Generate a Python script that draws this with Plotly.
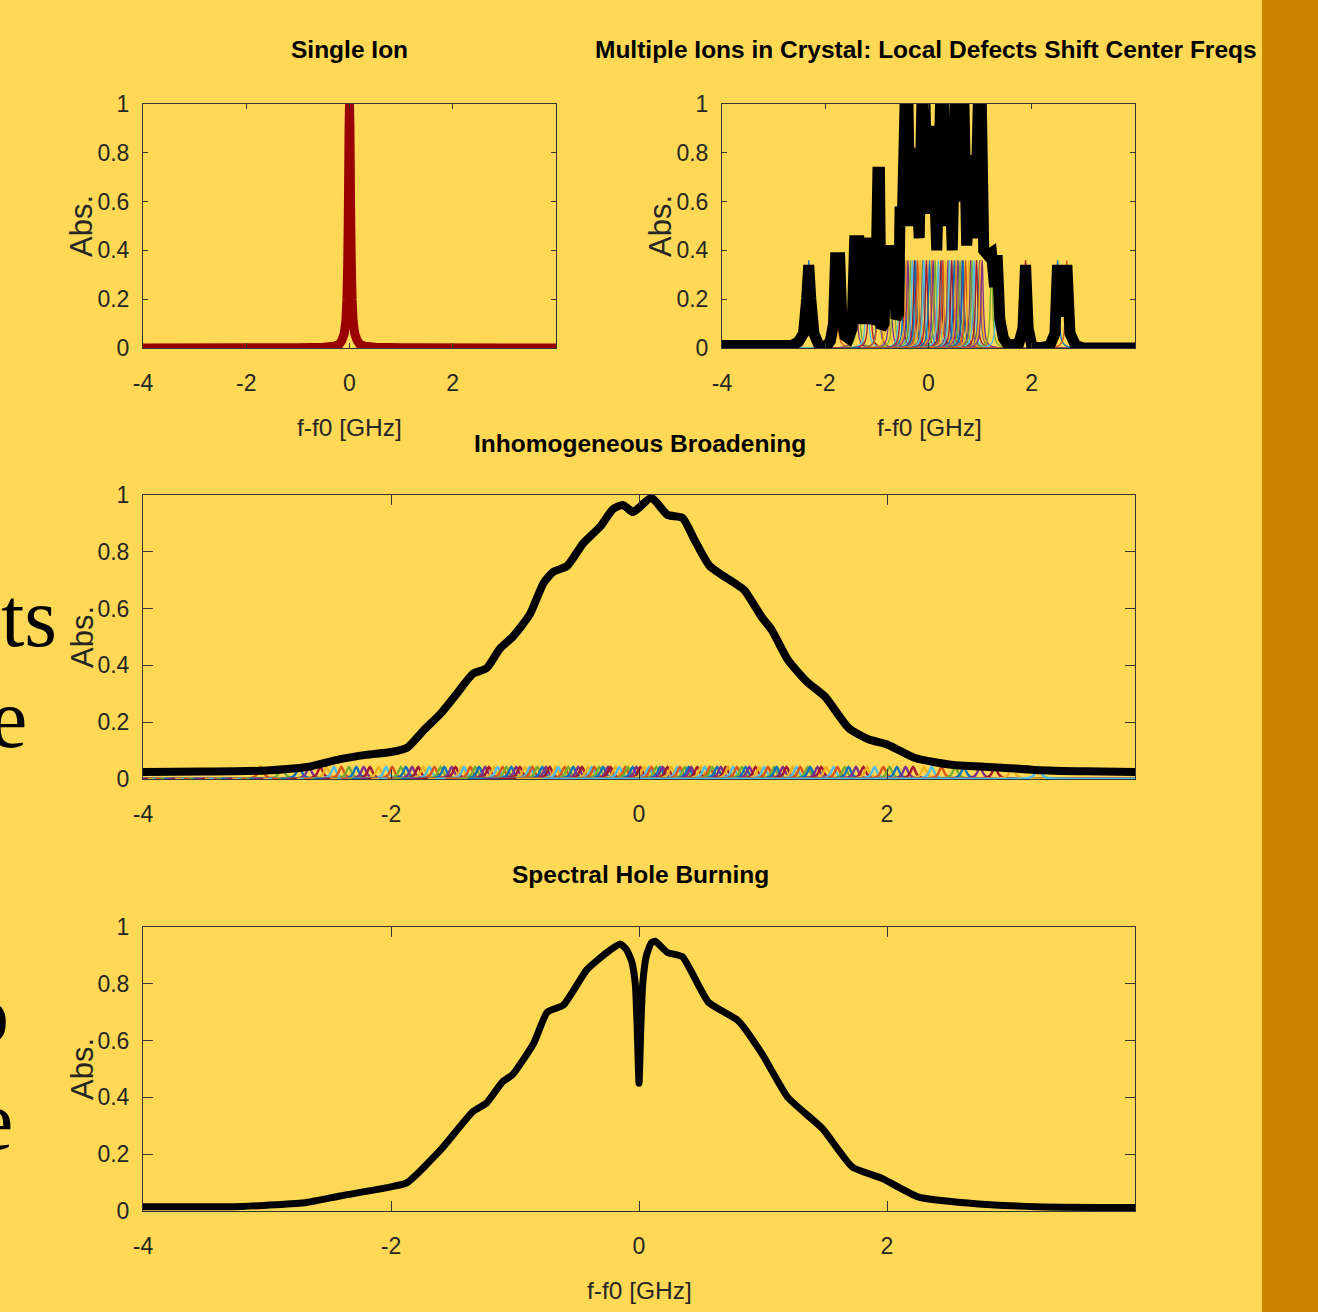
import plotly.graph_objects as go

W, H = 1318, 1312
BG = "#FFD955"
STRIPE = "#CC8400"
AXC = "#333333"
TXT = "#262626"
SANS = "Liberation Sans, Arial, sans-serif"
SERIF = "Liberation Serif, Times New Roman, serif"

MATLAB = ["#0072BD", "#D95319", "#EDB120", "#7E2F8E", "#77AC30", "#4DBEEE", "#A2142F"]

# ---------- data ----------
x_ticks = [-4, -2, 0, 2]
x_tick_text = ["-4", "-2", "0", "2"]
y_ticks = [0, 0.2, 0.4, 0.6, 0.8, 1.0]
y_tick_text = ["0", "0.2", "0.4", "0.6", "0.8", "1"]

# homogeneous line shape (Single Ion panel): offset from centre [GHz] and relative height
line_dx = [-4.0, -1.0, -0.5, -0.3, -0.2, -0.15, -0.1, -0.07, -0.05, -0.035, -0.025, -0.015, -0.008, 0.0,
           0.008, 0.015, 0.025, 0.035, 0.05, 0.07, 0.1, 0.15, 0.2, 0.3, 0.5, 1.0, 4.0]
line_rel = [0.0, 0.001, 0.003, 0.007, 0.015, 0.03, 0.06, 0.11, 0.2, 0.34, 0.5, 0.74, 0.91, 1.0,
            0.91, 0.74, 0.5, 0.34, 0.2, 0.11, 0.06, 0.03, 0.015, 0.007, 0.003, 0.001, 0.0]
single_center = 0.0
single_peak = 1.0

# Multiple ions: individual ion centres [GHz], each with the same peak height
ion_centers = [-2.32, -1.79, -1.71, -1.41, -1.36, -1.19, -1.14, -0.97, -0.96, -0.80, -0.74, -0.68,
               -0.55, -0.52, -0.47, -0.43, -0.42, -0.40, -0.35, -0.31, -0.27, -0.25, -0.21, -0.16,
               -0.11, -0.10, -0.09, -0.04, 0.02, 0.07, 0.08, 0.09, 0.13, 0.19, 0.24, 0.27, 0.28,
               0.33, 0.38, 0.40, 0.41, 0.45, 0.50, 0.54, 0.55, 0.57, 0.61, 0.65, 0.66, 0.67, 0.72,
               0.78, 0.82, 0.84, 0.88, 0.93, 0.99, 1.00, 1.01, 1.04, 1.22, 1.33, 1.88, 2.50, 2.68]
ion_peak = 0.36

# Multiple ions: summed spectrum (thick black)
mi_f = [-4.0, -2.65, -2.52, -2.42, -2.36, -2.32, -2.28, -2.22, -2.12, -1.98, -1.90, -1.84, -1.80,
        -1.72, -1.68, -1.62, -1.55, -1.48, -1.43, -1.35, -1.30, -1.24, -1.19, -1.13, -1.08, -1.03,
        -0.98, -0.95, -0.92, -0.86, -0.81, -0.67, -0.63, -0.58, -0.55, -0.51, -0.42, -0.36, -0.26,
        -0.18, -0.10, -0.02, 0.08, 0.16, 0.27, 0.34, 0.40, 0.46, 0.55, 0.60, 0.66, 0.74, 0.83, 0.90,
        1.00, 1.07, 1.15, 1.22, 1.28, 1.33, 1.38, 1.45, 1.55, 1.75, 1.83, 1.88, 1.93, 2.00, 2.15,
        2.35, 2.45, 2.50, 2.56, 2.62, 2.68, 2.74, 2.85, 3.00, 4.0]
mi_v = [0.01, 0.01, 0.025, 0.06, 0.20, 0.34, 0.20, 0.06, 0.01, 0.005, 0.03, 0.10, 0.37,
        0.37, 0.12, 0.05, 0.04, 0.08, 0.44, 0.44, 0.12, 0.12, 0.43, 0.43, 0.10, 0.12,
        0.72, 0.72, 0.08, 0.10, 0.40, 0.40, 0.12, 0.14, 0.58, 0.50, 1.3, 0.50, 0.82,
        0.45, 1.3, 0.55, 0.91, 0.40, 1.3, 0.50, 0.82, 0.40, 1.3, 0.60, 1.3, 0.42, 0.79, 0.45,
        1.3, 0.40, 0.38, 0.39, 0.25, 0.38, 0.12, 0.04, 0.01, 0.02, 0.08, 0.34, 0.08, 0.01, 0.0,
        0.01, 0.06, 0.34, 0.15, 0.15, 0.34, 0.06, 0.01, 0.0, 0.0]

# Inhomogeneous broadening: many weak ions (coloured band) and their sum (black)
band_centers = [-3.05, -2.88, -2.74, -2.66, -2.57, -2.52, -2.46, -2.40, -2.34, -2.28, -2.22, -2.17,
                -2.10, -2.04, -1.99, -1.92, -1.88, -1.83, -1.78, -1.74, -1.69, -1.65, -1.60, -1.57,
                -1.51, -1.48, -1.43, -1.41, -1.36, -1.32, -1.29, -1.24, -1.21, -1.17, -1.14, -1.10,
                -1.07, -1.03, -0.99, -0.96, -0.92, -0.88, -0.86, -0.82, -0.78, -0.75, -0.72, -0.67,
                -0.65, -0.60, -0.57, -0.53, -0.49, -0.46, -0.41, -0.38, -0.36, -0.32, -0.29, -0.25,
                -0.23, -0.19, -0.16, -0.11, -0.09, -0.05, -0.02, 0.01, 0.04, 0.08, 0.10, 0.14, 0.17,
                0.19, 0.23, 0.26, 0.31, 0.33, 0.37, 0.40, 0.42, 0.47, 0.50, 0.53, 0.57, 0.59, 0.63,
                0.66, 0.70, 0.72, 0.76, 0.79, 0.83, 0.86, 0.89, 0.94, 0.97, 1.01, 1.04, 1.09, 1.11,
                1.16, 1.19, 1.24, 1.27, 1.30, 1.36, 1.38, 1.44, 1.47, 1.51, 1.57, 1.60, 1.66, 1.69,
                1.75, 1.81, 1.84, 1.90, 1.97, 2.02, 2.08, 2.15, 2.21, 2.30, 2.36, 2.44, 2.55, 2.62,
                2.75, 2.87, 3.01, 3.22]
band_peak = 0.042

inh_f = [-4.0, -3.5, -3.0, -2.68, -2.41, -2.2, -2.0, -1.87, -1.74, -1.60, -1.47, -1.34, -1.23, -1.12,
         -1.02, -0.88, -0.77, -0.69, -0.58, -0.45, -0.31, -0.21, -0.13, -0.05, 0.0, 0.10, 0.23, 0.35,
         0.45, 0.57, 0.77, 0.85, 0.99, 1.07, 1.20, 1.36, 1.50, 1.69, 1.85, 2.01, 2.22, 2.52, 2.93,
         3.19, 3.6, 4.0]
inh_v = [0.025, 0.026, 0.03, 0.042, 0.07, 0.085, 0.095, 0.11, 0.17, 0.23, 0.30, 0.37, 0.39, 0.46,
         0.50, 0.58, 0.69, 0.73, 0.75, 0.83, 0.89, 0.95, 0.965, 0.94, 0.955, 0.99, 0.93, 0.92,
         0.84, 0.75, 0.69, 0.665, 0.57, 0.525, 0.42, 0.34, 0.29, 0.18, 0.14, 0.12, 0.075, 0.05, 0.04,
         0.032, 0.027, 0.025]

# Spectral hole burning (black)
shb_f = [-4.0, -3.2, -2.68, -2.41, -2.0, -1.87, -1.6, -1.34, -1.23, -1.10, -1.02, -0.85, -0.74, -0.61,
         -0.42, -0.26, -0.15, -0.10, -0.06, -0.03, -0.015, 0.0, 0.015, 0.03, 0.06, 0.10, 0.13, 0.23,
         0.35, 0.56, 0.80, 0.99, 1.20, 1.48, 1.72, 1.96, 2.25, 2.65, 3.2, 4.0]
shb_v = [0.015, 0.016, 0.03, 0.053, 0.085, 0.10, 0.215, 0.35, 0.38, 0.455, 0.48, 0.59, 0.70, 0.725,
         0.85, 0.91, 0.94, 0.92, 0.88, 0.80, 0.65, 0.45, 0.65, 0.80, 0.90, 0.945, 0.95, 0.91,
         0.895, 0.735, 0.67, 0.555, 0.40, 0.29, 0.155, 0.115, 0.05, 0.028, 0.015, 0.012]

# panel texts
titles = ["Single Ion", "Multiple Ions in Crystal: Local Defects Shift Center Freqs",
          "Inhomogeneous Broadening", "Spectral Hole Burning"]
x_label = "f-f0 [GHz]"
y_label = "Abs."
side_text = ["ts", "e", "o", "e"]

# ---------- figure ----------
def xp(px):
    return px / W

def yp(py):
    return 1 - py / H

fig = go.Figure()

def ion_trace(center, peak, color, width, xa, ya):
    return go.Scatter(x=[center + d for d in line_dx], y=[peak * r for r in line_rel],
                      mode="lines", line=dict(color=color, width=width, simplify=False),
                      xaxis=xa, yaxis=ya, showlegend=False, hoverinfo="skip")

# panel 1: single ion
fig.add_trace(ion_trace(single_center, single_peak, "#990000", 9, "x", "y"))

# panel 2: individual ions + sum
for i, c in enumerate(ion_centers):
    fig.add_trace(ion_trace(c, ion_peak, MATLAB[i % 7], 1.3, "x2", "y2"))
fig.add_trace(go.Scatter(x=mi_f, y=mi_v, mode="lines",
                         line=dict(color="black", width=11, simplify=False),
                         xaxis="x2", yaxis="y2", showlegend=False, hoverinfo="skip"))

# panel 3: inhomogeneous broadening
for i, c in enumerate(band_centers):
    fig.add_trace(ion_trace(c, band_peak, MATLAB[(i * 3 + 1) % 7], 2.4, "x3", "y3"))
fig.add_trace(go.Scatter(x=inh_f, y=inh_v, mode="lines",
                         line=dict(color="black", width=8, simplify=False, shape="spline", smoothing=0.6),
                         xaxis="x3", yaxis="y3", showlegend=False, hoverinfo="skip"))

# panel 4: spectral hole burning
fig.add_trace(go.Scatter(x=shb_f, y=shb_v, mode="lines",
                         line=dict(color="black", width=7, simplify=False, shape="spline", smoothing=0.5),
                         xaxis="x4", yaxis="y4", showlegend=False, hoverinfo="skip"))

def xaxis(domain, anchor, ticklen):
    return dict(domain=domain, anchor=anchor, range=[-4, 4], tickvals=x_ticks, ticktext=x_tick_text,
                ticks="inside", ticklen=ticklen, tickwidth=1, tickcolor=AXC,
                showline=True, linecolor=AXC, linewidth=1, mirror="ticks", automargin=False,
                showgrid=False, zeroline=False, ticklabelstandoff=14,
                tickfont=dict(family=SANS, size=23, color=TXT))

def yaxis(domain, anchor, ticklen):
    return dict(domain=domain, anchor=anchor, range=[0, 1], tickvals=y_ticks, ticktext=y_tick_text,
                ticks="inside", ticklen=ticklen, tickwidth=1, tickcolor=AXC,
                showline=True, linecolor=AXC, linewidth=1, mirror="ticks", automargin=False,
                showgrid=False, zeroline=False, ticklabelstandoff=8,
                tickfont=dict(family=SANS, size=23, color=TXT))

top_y = [yp(348), yp(104)]
mid_y = [yp(779), yp(495)]
bot_y = [yp(1211), yp(927)]

annotations = []
def ann(text, x, y, font, angle=0, xanchor="center"):
    annotations.append(dict(text=text, x=xp(x), y=yp(y), xref="paper", yref="paper",
                            showarrow=False, font=font, textangle=angle,
                            xanchor=xanchor, yanchor="middle"))

tfont = dict(family=SANS, size=24.5, color="black")
lfont = dict(family=SANS, size=24.5, color=TXT)
yfont = dict(family=SANS, size=31, color=TXT)
sfont = dict(family=SERIF, size=84, color="black")

ann("<b>" + titles[0] + "</b>", 349, 50, tfont)
ann("<b>" + titles[1] + "</b>", 926, 50, tfont)
ann("<b>" + titles[2] + "</b>", 640, 443, tfont)
ann("<b>" + titles[3] + "</b>", 640, 875, tfont)
ann(x_label, 349, 428, lfont)
ann(x_label, 929, 428, lfont)
ann(x_label, 639, 1290, lfont)
ann(y_label, 82, 226, yfont, -90)
ann(y_label, 661, 226, yfont, -90)
ann(y_label, 82, 637, yfont, -90)
ann(y_label, 82, 1069, yfont, -90)
# fragments of slide text that sit at the left edge, partly outside the picture
ann(side_text[0], 59, 618, sfont, xanchor="right")
ann(side_text[1], 29, 718, sfont, xanchor="right")
ann(side_text[2], 11, 1013, sfont, xanchor="right")
ann(side_text[3], 15, 1120, sfont, xanchor="right")

fig.update_layout(
    width=W, height=H, margin=dict(l=0, r=0, t=0, b=0, pad=0, autoexpand=False),
    paper_bgcolor=BG, plot_bgcolor=BG, showlegend=False,
    xaxis=xaxis([xp(143), xp(556)], "y", 5),
    yaxis=yaxis(top_y, "x", 5),
    xaxis2=xaxis([xp(722), xp(1135)], "y2", 5),
    yaxis2=yaxis(top_y, "x2", 5),
    xaxis3=xaxis([xp(143), xp(1135)], "y3", 10),
    yaxis3=yaxis(mid_y, "x3", 10),
    xaxis4=xaxis([xp(143), xp(1135)], "y4", 10),
    yaxis4=yaxis(bot_y, "x4", 10),
    annotations=annotations,
    shapes=[dict(type="rect", xref="paper", yref="paper", x0=xp(1262), x1=1, y0=0, y1=1,
                 fillcolor=STRIPE, line=dict(width=0), layer="below")],
)

fig.write_html("out.html")
